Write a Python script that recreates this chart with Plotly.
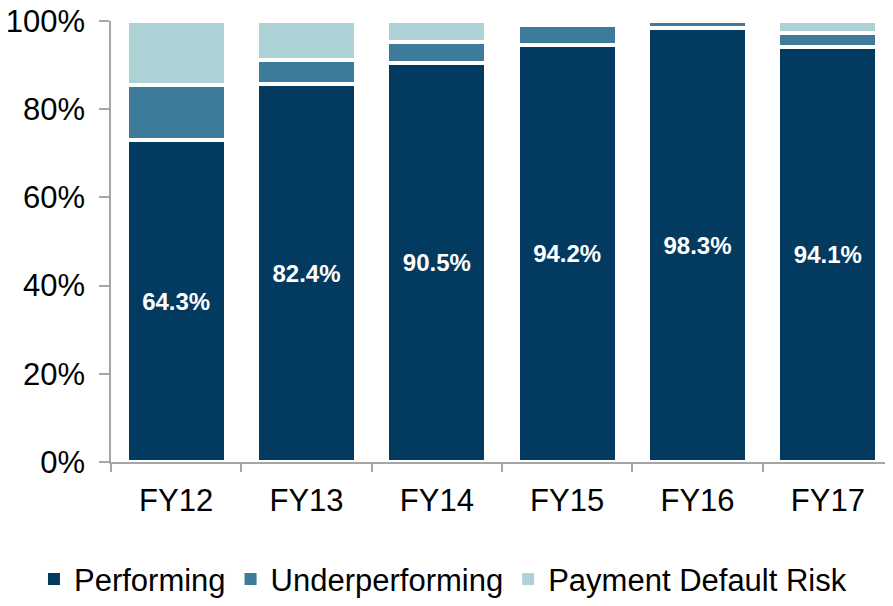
import plotly.graph_objects as go

categories = ["FY12", "FY13", "FY14", "FY15", "FY16", "FY17"]
performing = [73.0, 85.7, 90.5, 94.6, 98.4, 94.2]
underperforming = [12.5, 5.5, 4.8, 4.5, 1.6, 3.1]
payment_default = [14.5, 8.8, 4.7, 0.9, 0.0, 2.7]
performing_labels = ["64.3%", "82.4%", "90.5%", "94.2%", "98.3%", "94.1%"]
series_names = ["Performing", "Underperforming", "Payment Default Risk"]
series_colors = ["#033a5f", "#3e7b9a", "#aed3d7"]

FONT = "Liberation Sans, Arial, sans-serif"
AXIS_GREY = "#a6a6a6"

fig = go.Figure()
for name, vals, col in zip(series_names, [performing, underperforming, payment_default], series_colors):
    kw = {}
    if name == "Performing":
        kw = dict(text=performing_labels, texttemplate="%{text}", textposition="inside",
                  insidetextanchor="middle", textangle=0,
                  textfont=dict(family=FONT, size=24, color="white", weight="bold"))
    fig.add_trace(go.Bar(
        name=name, x=categories, y=vals, showlegend=False,
        marker=dict(color=col, line=dict(color="white", width=4)),
        hoverinfo="skip", **kw,
    ))

# legend entries (plain squares)
for name, col in zip(series_names, series_colors):
    fig.add_trace(go.Scatter(
        name=name, x=[None], y=[None], mode="markers",
        marker=dict(symbol="square", size=12, color=col),
        showlegend=True, hoverinfo="skip",
    ))

# The page body keeps its default 8px margin, so margins are shifted by -8px.
fig.update_layout(
    barmode="stack",
    bargap=0.24,
    width=893, height=606,
    margin=dict(l=103, r=8, t=13, b=145),
    paper_bgcolor="white", plot_bgcolor="white",
    font=dict(family=FONT, size=30, color="black"),
    showlegend=True,
    legend=dict(
        orientation="h", x=-0.0985, xanchor="left", y=-0.266, yanchor="middle",
        font=dict(family=FONT, size=31, color="black"),
        traceorder="normal", itemclick=False, itemdoubleclick=False,
    ),
    xaxis=dict(
        showline=True, linecolor=AXIS_GREY, linewidth=1.5,
        ticks="outside", tickson="boundaries", ticklen=8, tickcolor=AXIS_GREY, tickwidth=1.5,
        tickfont=dict(family=FONT, size=31, color="black"),
        ticklabelstandoff=10,
        showgrid=False, zeroline=False, automargin=False,
    ),
    yaxis=dict(
        range=[0, 100], dtick=20, ticksuffix="%",
        showline=True, linecolor=AXIS_GREY, linewidth=1.5,
        ticks="outside", ticklen=10, tickcolor=AXIS_GREY, tickwidth=1.5,
        tickfont=dict(family=FONT, size=31, color="black"),
        ticklabelstandoff=8, ticklabeloverflow="allow",
        showgrid=False, zeroline=False, automargin=False,
    ),
)

fig.write_html("out.html", config={"displayModeBar": False})
